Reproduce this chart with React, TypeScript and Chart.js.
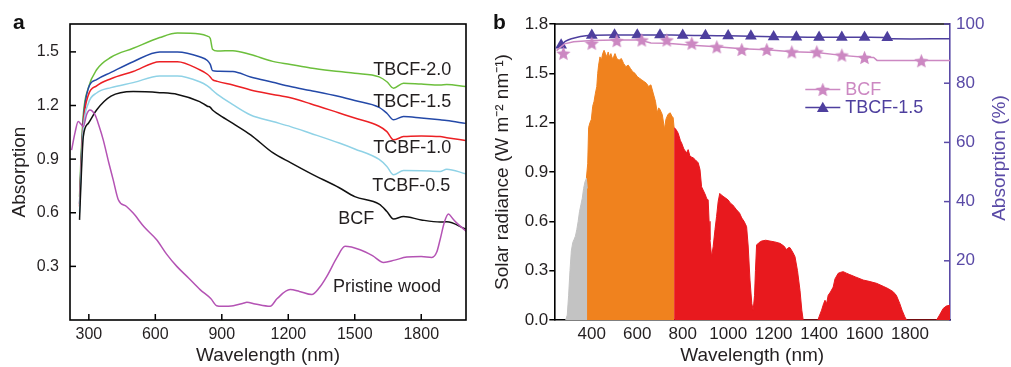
import React, { useEffect, useRef } from 'react';
import { Chart, registerables } from 'chart.js';

Chart.register(...registerables);

const FONT = "'Liberation Sans', Arial, Helvetica, sans-serif";

// ---------------- Panel a data ----------------
const filmWavelengths = [258, 265, 275, 298, 335, 400, 500, 620, 700, 800, 835, 848, 858, 880, 950, 1030, 1130, 1210, 1300, 1430, 1500, 1610, 1645, 1675, 1720, 1800, 1885, 1915, 2000];
const tbcf20 = [0.69, 0.92, 1.15, 1.30, 1.40, 1.47, 1.52, 1.58, 1.605, 1.60, 1.588, 1.575, 1.515, 1.505, 1.507, 1.485, 1.447, 1.43, 1.41, 1.39, 1.38, 1.36, 1.333, 1.297, 1.325, 1.32, 1.315, 1.318, 1.306];
const tbcf15 = [0.65, 0.88, 1.12, 1.297, 1.345, 1.385, 1.445, 1.50, 1.50, 1.473, 1.452, 1.43, 1.395, 1.392, 1.39, 1.36, 1.33, 1.306, 1.284, 1.25, 1.228, 1.19, 1.157, 1.12, 1.138, 1.13, 1.12, 1.116, 1.10];
const tcbf10 = [0.635, 0.86, 1.10, 1.259, 1.31, 1.35, 1.39, 1.445, 1.445, 1.40, 1.375, 1.36, 1.345, 1.335, 1.315, 1.287, 1.262, 1.243, 1.21, 1.158, 1.13, 1.084, 1.054, 1.008, 1.026, 1.03, 1.026, 1.02, 1.004];
const tcbf05 = [0.60, 0.83, 1.07, 1.213, 1.27, 1.30, 1.328, 1.365, 1.365, 1.333, 1.31, 1.297, 1.285, 1.262, 1.205, 1.147, 1.11, 1.082, 1.045, 0.99, 0.957, 0.898, 0.859, 0.812, 0.836, 0.835, 0.831, 0.844, 0.818];
const bcfA = [0.56, 0.78, 1.026, 1.101, 1.175, 1.252, 1.278, 1.272, 1.262, 1.222, 1.196, 1.19, 1.175, 1.155, 1.10, 1.036, 0.936, 0.88, 0.82, 0.74, 0.69, 0.648, 0.607, 0.565, 0.579, 0.56, 0.548, 0.549, 0.509];
const pristineWavelengths = [222, 238, 252, 265, 275, 290, 305, 328, 345, 365, 390, 410, 433, 470, 500, 550, 606, 650, 697, 750, 802, 850, 877, 900, 952, 1000, 1013, 1050, 1118, 1150, 1208, 1250, 1306, 1340, 1374, 1420, 1456, 1524, 1580, 1630, 1680, 1735, 1800, 1848, 1870, 1885, 1905, 1923, 1940, 1961, 2003];
const pristineWood = [0.95, 1.05, 1.11, 1.095, 1.082, 1.15, 1.175, 1.147, 1.09, 1.008, 0.88, 0.784, 0.673, 0.635, 0.598, 0.52, 0.449, 0.37, 0.30, 0.235, 0.17, 0.12, 0.08, 0.077, 0.08, 0.095, 0.099, 0.09, 0.077, 0.12, 0.17, 0.16, 0.142, 0.18, 0.244, 0.35, 0.412, 0.393, 0.36, 0.322, 0.335, 0.352, 0.355, 0.35, 0.38, 0.449, 0.55, 0.593, 0.57, 0.542, 0.496];
const panelAXTicks = [300, 600, 900, 1200, 1500, 1800];
const panelAYTicks = [0.3, 0.6, 0.9, 1.2, 1.5];
const panelALabelText = ['TBCF-2.0', 'TBCF-1.5', 'TCBF-1.0', 'TCBF-0.5', 'BCF', 'Pristine wood'];
const panelALabelWl = [1583, 1583, 1583, 1579, 1425, 1402];
const panelALabelAbs = [1.399, 1.22, 0.963, 0.751, 0.566, 0.187];

// ---------------- Panel b data ----------------
const uvWl = [285, 292, 298, 304, 310, 316, 322, 328, 334, 340, 346, 352, 358, 364, 370, 376, 380];
const uvRad = [0, 0.03, 0.15, 0.3, 0.42, 0.47, 0.49, 0.51, 0.55, 0.6, 0.66, 0.7, 0.74, 0.8, 0.84, 0.86, 0.8];
const visWl = [376, 382, 386, 392, 398, 404, 410, 416, 422, 426, 430, 436, 442, 448, 454, 460, 466, 472, 478, 484, 490, 496, 502, 510, 520, 530, 540, 550, 560, 570, 580, 590, 600, 610, 620, 630, 640, 650, 660, 670, 680, 688, 694, 700, 710, 720, 726, 735, 745, 752, 758, 762];
const visRad = [0.86, 0.95, 1.17, 1.20, 1.22, 1.30, 1.33, 1.38, 1.42, 1.50, 1.55, 1.60, 1.58, 1.62, 1.64, 1.62, 1.60, 1.63, 1.60, 1.62, 1.59, 1.60, 1.62, 1.59, 1.58, 1.59, 1.56, 1.54, 1.55, 1.53, 1.51, 1.50, 1.48, 1.47, 1.46, 1.45, 1.44, 1.42, 1.43, 1.38, 1.33, 1.26, 1.29, 1.28, 1.25, 1.16, 1.22, 1.25, 1.26, 1.24, 1.23, 1.17];
const nirWl = [762, 770, 780, 790, 795, 805, 817, 824, 832, 840, 846, 855, 862, 868, 876, 883, 890, 900, 905, 912, 916, 920, 927, 934, 942, 949, 956, 963, 970, 978, 990, 1000, 1010, 1020, 1037, 1050, 1060, 1070, 1081, 1088, 1096, 1104, 1110, 1116, 1120, 1125, 1135, 1147, 1165, 1184, 1205, 1228, 1245, 1257, 1265, 1272, 1285, 1294, 1305, 1316, 1324, 1330, 1395, 1400, 1411, 1420, 1426, 1433, 1440, 1450, 1462, 1470, 1484, 1495, 1506, 1520, 1535, 1560, 1594, 1620, 1653, 1682, 1705, 1726, 1740, 1755, 1765, 1777, 1785, 1917, 1930, 1946, 1960, 1976];
const nirRad = [1.17, 1.16, 1.136, 1.09, 1.077, 1.04, 1.016, 1.036, 0.996, 0.99, 0.986, 0.975, 0.965, 0.956, 0.915, 0.81, 0.79, 0.76, 0.74, 0.73, 0.6, 0.487, 0.385, 0.446, 0.55, 0.63, 0.72, 0.77, 0.76, 0.752, 0.74, 0.73, 0.71, 0.70, 0.67, 0.65, 0.62, 0.60, 0.568, 0.45, 0.243, 0.10, 0.06, 0.15, 0.30, 0.456, 0.47, 0.48, 0.485, 0.48, 0.475, 0.466, 0.45, 0.428, 0.44, 0.44, 0.41, 0.385, 0.30, 0.18, 0.06, 0, 0, 0.02, 0.06, 0.10, 0.12, 0.10, 0.15, 0.17, 0.20, 0.25, 0.284, 0.29, 0.294, 0.285, 0.276, 0.262, 0.243, 0.235, 0.223, 0.205, 0.19, 0.172, 0.15, 0.10, 0.06, 0.02, 0, 0, 0.03, 0.07, 0.085, 0.09];

const bcfLineWl = [245, 260, 280, 320, 400, 500, 620, 640, 660, 730, 840, 950, 1060, 1170, 1280, 1390, 1500, 1600, 1640, 1655, 1976];
const bcfLineAbs = [91.0, 92.0, 93.3, 94.0, 94.4, 94.6, 94.6, 94.0, 93.6, 93.5, 92.8, 92.3, 91.6, 91.3, 90.6, 90.4, 89.4, 88.8, 88.7, 87.7, 87.7];
const bcfMarkerWl = [275, 400, 510, 620, 730, 840, 950, 1060, 1170, 1280, 1390, 1500, 1600, 1850];
const bcfMarkerAbs = [90.1, 93.5, 94.4, 94.6, 94.6, 93.5, 92.3, 91.4, 91.4, 90.6, 90.6, 89.5, 88.7, 87.6];
const tbcfLineWl = [250, 265, 285, 310, 350, 400, 500, 600, 700, 800, 900, 1000, 1100, 1200, 1300, 1400, 1500, 1600, 1700, 1720, 1976];
const tbcfLineAbs = [92.3, 92.9, 94.2, 95.0, 95.8, 96.2, 96.3, 96.3, 96.3, 96.2, 96.1, 96.0, 95.9, 95.7, 95.6, 95.5, 95.5, 95.5, 95.4, 95.0, 95.0];
const tbcfMarkerWl = [265, 400, 500, 600, 700, 800, 900, 1000, 1100, 1200, 1300, 1400, 1500, 1600, 1700];
const tbcfMarkerAbs = [92.9, 96.2, 96.3, 96.3, 96.3, 96.2, 96.1, 96.0, 95.9, 95.7, 95.6, 95.5, 95.5, 95.5, 95.4];

const panelBXTicks = [400, 600, 800, 1000, 1200, 1400, 1600, 1800];
const panelBYTicks = [0, 0.3, 0.6, 0.9, 1.2, 1.5, 1.8];
const panelBY2Ticks = [20, 40, 60, 80, 100];
const legendNames = ['BCF', 'TBCF-1.5'];

const C = {
  green: '#6cbf3c',
  blue: '#2449a8',
  red: '#ec2024',
  lightBlue: '#8fd2e6',
  black: '#111111',
  purple: '#b453b4',
  gray: '#c3c3c3',
  orange: '#f0821e',
  nir: '#e8191e',
  pink: '#cc88c2',
  violet: '#4e3f9e',
  axisViolet: '#5a4aa6',
  text: '#231f20',
};

const pts = (xs: number[], ys: number[]) => xs.map((x, i) => ({ x, y: ys[i] }));

function makeStar(color: string, size: number) {
  const c = document.createElement('canvas');
  c.width = size;
  c.height = size;
  const g = c.getContext('2d')!;
  const cx = size / 2, cy = size / 2 + 0.8, R = size / 2, r = R * 0.45;
  g.beginPath();
  for (let i = 0; i < 10; i++) {
    const a = -Math.PI / 2 + (i * Math.PI) / 5;
    const rad = i % 2 === 0 ? R : r;
    g.lineTo(cx + rad * Math.cos(a), cy + rad * Math.sin(a));
  }
  g.closePath();
  g.fillStyle = color;
  g.fill();
  return c;
}

function drawTri(ctx: CanvasRenderingContext2D, x: number, y: number, r: number, color: string) {
  ctx.beginPath();
  ctx.moveTo(x, y - r);
  ctx.lineTo(x + 0.866 * r, y + 0.5 * r);
  ctx.lineTo(x - 0.866 * r, y + 0.5 * r);
  ctx.closePath();
  ctx.fillStyle = color;
  ctx.fill();
}

export default function App() {
  const refA = useRef<HTMLCanvasElement>(null);
  const refB = useRef<HTMLCanvasElement>(null);

  useEffect(() => {
    document.body.style.margin = '0';
    const tickFontA = { family: FONT, size: 16 };
    const titleFont = { family: FONT, size: 19 };

    const lineDs = (label: string, xs: number[], ys: number[], color: string, extra: any = {}) => ({
      label,
      data: pts(xs, ys),
      borderColor: color,
      backgroundColor: color,
      borderWidth: 1.5,
      pointRadius: 0,
      cubicInterpolationMode: 'monotone',
      ...extra,
    });

    const panelAPlugin = {
      id: 'panelA',
      afterDraw(chart: any) {
        const { ctx, chartArea: ca, scales } = chart;
        ctx.save();
        ctx.strokeStyle = '#000';
        ctx.lineWidth = 1.6;
        ctx.strokeRect(ca.left, ca.top, ca.right - ca.left, ca.bottom - ca.top);
        ctx.lineWidth = 1.5;
        scales.x.ticks.forEach((t: any) => {
          const p = scales.x.getPixelForValue(t.value);
          ctx.beginPath();
          ctx.moveTo(p, ca.bottom);
          ctx.lineTo(p, ca.bottom - 6);
          ctx.stroke();
        });
        scales.y.ticks.forEach((t: any) => {
          const p = scales.y.getPixelForValue(t.value);
          ctx.beginPath();
          ctx.moveTo(ca.left, p);
          ctx.lineTo(ca.left + 6, p);
          ctx.stroke();
        });
        ctx.fillStyle = C.text;
        ctx.font = `18px ${FONT}`;
        ctx.textAlign = 'left';
        ctx.textBaseline = 'middle';
        panelALabelText.forEach((txt, i) => {
          ctx.fillText(txt, scales.x.getPixelForValue(panelALabelWl[i]), scales.y.getPixelForValue(panelALabelAbs[i]));
        });
        ctx.restore();
      },
    };

    const chartA = new Chart(refA.current!, {
      type: 'line',
      data: {
        datasets: [
          lineDs('Pristine wood', pristineWavelengths, pristineWood, C.purple),
          lineDs('BCF', filmWavelengths, bcfA, C.black),
          lineDs('TCBF-0.5', filmWavelengths, tcbf05, C.lightBlue),
          lineDs('TCBF-1.0', filmWavelengths, tcbf10, C.red),
          lineDs('TBCF-1.5', filmWavelengths, tbcf15, C.blue),
          lineDs('TBCF-2.0', filmWavelengths, tbcf20, C.green),
        ],
      },
      options: {
        animation: false,
        responsive: false,
        devicePixelRatio: 1,
        layout: { padding: { left: 0, top: 24, right: 24, bottom: 0 } },
        plugins: { legend: { display: false }, tooltip: { enabled: false } },
        scales: {
          x: {
            type: 'linear',
            min: 215,
            max: 2002,
            afterBuildTicks: (s: any) => { s.ticks = panelAXTicks.map((v) => ({ value: v })); },
            afterFit: (s: any) => { s.height = 47; },
            grid: { display: false, drawTicks: false },
            border: { display: false },
            ticks: { font: tickFontA, color: C.text, padding: 5, maxRotation: 0, autoSkip: false, callback: (v: any) => String(v) },
            title: { display: true, text: 'Wavelength (nm)', font: titleFont, color: C.text, padding: { top: 0, bottom: 0 } },
          },
          y: {
            type: 'linear',
            min: 0,
            max: 1.656,
            afterBuildTicks: (s: any) => { s.ticks = panelAYTicks.map((v) => ({ value: v })); },
            afterFit: (s: any) => { s.width = 70; },
            grid: { display: false, drawTicks: false },
            border: { display: false },
            ticks: { font: tickFontA, color: C.text, padding: 11, autoSkip: false, callback: (v: any) => Number(v).toFixed(1) },
            title: { display: true, text: 'Absorption', font: titleFont, color: C.text, padding: { top: 8, bottom: 0 } },
          },
        },
      },
      plugins: [panelAPlugin],
    } as any);

    const star = makeStar(C.pink, 15);
    const tickFontB = { family: FONT, size: 17 };

    const panelBPlugin = {
      id: 'panelB',
      afterDraw(chart: any) {
        const { ctx, chartArea: ca, scales } = chart;
        ctx.save();
        ctx.strokeStyle = '#000';
        ctx.lineWidth = 1.6;
        ctx.beginPath();
        ctx.moveTo(ca.left, ca.top);
        ctx.lineTo(ca.right, ca.top);
        ctx.stroke();
        ctx.strokeStyle = C.axisViolet;
        ctx.lineWidth = 1.5;
        scales.y2.ticks.forEach((t: any) => {
          const p = scales.y2.getPixelForValue(t.value);
          ctx.beginPath();
          ctx.moveTo(ca.right, p);
          ctx.lineTo(ca.right - 6, p);
          ctx.stroke();
        });
        ctx.fillStyle = C.axisViolet;
        ctx.font = `19px ${FONT}`;
        ctx.textAlign = 'center';
        ctx.textBaseline = 'middle';
        ctx.translate(chart.width - 11, (ca.top + ca.bottom) / 2 - 14);
        ctx.rotate(-Math.PI / 2);
        ctx.fillText('Absorption (%)', 0, 0);
        ctx.restore();

        ctx.save();
        const lx0 = ca.left + 251, lx1 = ca.left + 286, mx = ca.left + 268.5, tx = ca.left + 291;
        const rows = [ca.top + 65.5, ca.top + 83.5];
        const colors = [C.pink, C.violet];
        ctx.font = `18px ${FONT}`;
        ctx.textAlign = 'left';
        ctx.textBaseline = 'middle';
        rows.forEach((y, i) => {
          ctx.strokeStyle = colors[i];
          ctx.lineWidth = 1.5;
          ctx.beginPath();
          ctx.moveTo(lx0, y);
          ctx.lineTo(lx1, y);
          ctx.stroke();
          if (i === 0) ctx.drawImage(star, mx - star.width / 2, y - star.height / 2);
          else drawTri(ctx, mx, y + 1, 6.8, C.violet);
          ctx.fillStyle = colors[i];
          ctx.fillText(legendNames[i], tx, y + 1);
        });
        ctx.restore();
      },
    };

    const fillDs = (label: string, xs: number[], ys: number[], color: string) => ({
      label,
      data: pts(xs, ys),
      borderColor: color,
      backgroundColor: color,
      borderWidth: 1,
      pointRadius: 0,
      fill: 'origin',
      tension: 0,
      yAxisID: 'y',
    });

    const chartB = new Chart(refB.current!, {
      type: 'line',
      data: {
        datasets: [
          fillDs('UV', uvWl, uvRad, C.gray),
          fillDs('Visible', visWl, visRad, C.orange),
          fillDs('NIR', nirWl, nirRad, C.nir),
          { label: 'BCF line', data: pts(bcfLineWl, bcfLineAbs), borderColor: C.pink, borderWidth: 1.5, pointRadius: 0, tension: 0, yAxisID: 'y2', fill: false },
          { label: 'BCF', data: pts(bcfMarkerWl, bcfMarkerAbs), showLine: false, pointStyle: star, pointRadius: 7, yAxisID: 'y2' },
          { label: 'TBCF line', data: pts(tbcfLineWl, tbcfLineAbs), borderColor: C.violet, borderWidth: 1.5, pointRadius: 0, tension: 0.3, yAxisID: 'y2', fill: false },
          { label: 'TBCF-1.5', data: pts(tbcfMarkerWl, tbcfMarkerAbs), showLine: false, pointStyle: 'triangle', pointRadius: 6.8, backgroundColor: C.violet, borderColor: C.violet, borderWidth: 0, yAxisID: 'y2' },
        ],
      },
      options: {
        animation: false,
        responsive: false,
        devicePixelRatio: 1,
        layout: { padding: { left: 0, top: 24, right: 0, bottom: 0 } },
        plugins: { legend: { display: false }, tooltip: { enabled: false } },
        scales: {
          x: {
            type: 'linear',
            min: 235,
            max: 1976,
            afterBuildTicks: (s: any) => { s.ticks = panelBXTicks.map((v) => ({ value: v })); },
            afterFit: (s: any) => { s.height = 47; },
            grid: { display: false, drawTicks: false },
            border: { display: true, color: '#000', width: 1.6 },
            ticks: { font: tickFontB, color: C.text, padding: 4, maxRotation: 0, autoSkip: false, callback: (v: any) => String(v) },
            title: { display: true, text: 'Wavelength (nm)', font: titleFont, color: C.text, padding: { top: 0, bottom: 0 } },
          },
          y: {
            type: 'linear',
            position: 'left',
            min: 0,
            max: 1.8,
            afterBuildTicks: (s: any) => { s.ticks = panelBYTicks.map((v) => ({ value: v })); },
            afterFit: (s: any) => { s.width = 64.3; },
            grid: { display: true, drawOnChartArea: false, drawTicks: true, tickLength: 5, color: '#000', lineWidth: 1.5 },
            border: { display: true, color: '#000', width: 1.6 },
            ticks: { font: tickFontB, color: C.text, padding: 1, autoSkip: false, callback: (v: any) => Number(v).toFixed(1) },
            title: { display: true, text: 'Solar radiance (W m\u207B\u00B2 nm\u207B\u00B9)', font: titleFont, color: C.text, padding: { top: 1, bottom: 0 } },
          },
          y2: {
            type: 'linear',
            position: 'right',
            min: 0,
            max: 100,
            afterBuildTicks: (s: any) => { s.ticks = panelBY2Ticks.map((v) => ({ value: v })); },
            afterFit: (s: any) => { s.width = 61; },
            grid: { display: false, drawTicks: false },
            border: { display: true, color: C.axisViolet, width: 1.6 },
            ticks: { font: tickFontB, color: C.axisViolet, padding: 6, autoSkip: false, callback: (v: any) => String(v) },
          },
        },
      },
      plugins: [panelBPlugin],
    } as any);

    return () => {
      chartA.destroy();
      chartB.destroy();
    };
  }, []);

  const letter: React.CSSProperties = {
    position: 'absolute',
    fontFamily: FONT,
    fontWeight: 'bold',
    fontSize: 21,
    lineHeight: '21px',
    color: '#111',
  };

  return (
    <div style={{ position: 'relative', width: 1011, height: 367, background: '#fff', overflow: 'hidden' }}>
      <canvas ref={refA} width={490} height={367} style={{ position: 'absolute', left: 0, top: 0, width: 490, height: 367 }} />
      <canvas ref={refB} width={521} height={367} style={{ position: 'absolute', left: 490, top: 0, width: 521, height: 367 }} />
      <div style={{ ...letter, left: 13, top: 11 }}>a</div>
      <div style={{ ...letter, left: 493, top: 11 }}>b</div>
    </div>
  );
}
